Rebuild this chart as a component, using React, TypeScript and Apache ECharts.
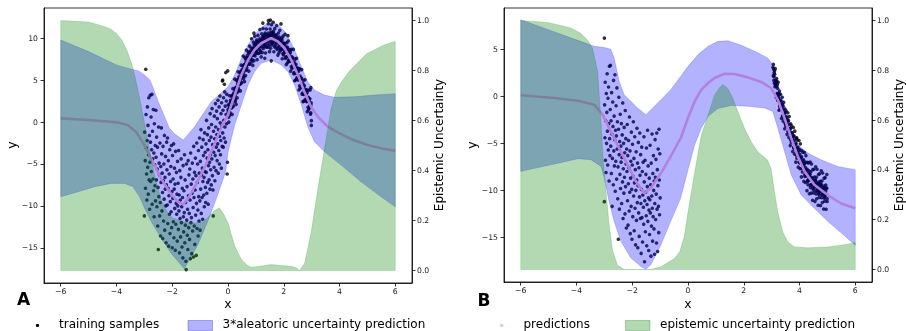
import React, { useEffect, useRef } from "react";
import * as echarts from "echarts";

// ---------- ticks ----------
const xTicks = [-6, -4, -2, 0, 2, 4, 6];
const yTicksA = [-15, -10, -5, 0, 5, 10];
const yTicksB = [-15, -10, -5, 0, 5];
const eTicks = [0, 0.2, 0.4, 0.6, 0.8, 1.0];

// ---------- panel A ----------
const trainA: number[][] = [
  [-2.99,-1.2],[-2.97,-4.6],[-2.96,-7.9],[-2.95,6.3],[-2.94,0.9],[-2.93,-3.1],[-2.92,-6.2],[-2.91,-9.3],[-2.9,-2.2],[-2.89,1.8],[-2.88,-5.4],[-2.87,-0.4],[-2.86,-8.6],[-2.85,-3.9],[-2.84,2.9],[-2.83,-6.9],[-2.82,-1.6],[-2.81,-10.4],[-2.8,-4.8],[-3.0,-11.2],
  [-2.79,3.2],[-2.78,-2.4],[-2.77,-7.1],[-2.76,0.6],[-2.75,-5.9],[-2.74,-3.3],[-2.73,3.3],[-2.72,-9.8],[-2.71,-1.1],[-2.7,-4.4],[-2.69,-6.8],[-2.68,1.5],[-2.67,-8.2],[-2.66,-3.7],[-2.65,-11.3],[-2.64,-0.2],[-2.63,-5.1],[-2.62,-7.6],[-2.61,-2.8],[-2.6,-9.4],
  [-2.59,1.4],[-2.58,-4.2],[-2.57,-6.9],[-2.56,-1.8],[-2.55,-10.1],[-2.54,-5.6],[-2.53,-3.0],[-2.52,-12.4],[-2.51,-7.8],[-2.5,-15.2],[-2.49,-0.6],[-2.48,-8.9],[-2.47,-4.9],[-2.46,-6.3],[-2.45,-11.2],[-2.44,-2.5],[-2.43,-9.6],[-2.42,-13.6],[-2.41,-5.3],[-2.4,-7.2],
  [-2.39,-0.7],[-2.38,-3.8],[-2.37,-10.6],[-2.36,-6.1],[-2.35,-8.4],[-2.34,-13.9],[-2.33,-2.9],[-2.32,-7.0],[-2.31,-11.8],[-2.3,-5.0],[-2.29,-9.2],[-2.28,-1.6],[-2.27,-12.9],[-2.26,-6.6],[-2.25,-8.0],[-2.24,-4.1],[-2.23,-10.0],[-2.22,-14.4],[-2.21,-7.5],[-2.2,-2.4],
  [-2.19,-5.7],[-2.18,-9.9],[-2.17,-1.9],[-2.16,-12.1],[-2.15,-7.9],[-2.14,-4.6],[-2.13,-14.8],[-2.12,-8.8],[-2.11,-6.2],[-2.1,-11.0],[-2.09,-3.3],[-2.08,-13.3],[-2.07,-9.5],[-2.06,-7.1],[-2.05,-5.3],[-2.04,-10.7],[-2.03,-2.8],[-2.02,-12.6],[-2.01,-8.3],[-2.0,-15.0],
  [-1.99,-4.0],[-1.98,-9.1],[-1.97,-6.8],[-1.96,-11.9],[-1.95,-2.6],[-1.94,-13.8],[-1.93,-8.0],[-1.92,-5.5],[-1.91,-10.3],[-1.9,-7.4],[-1.89,-15.3],[-1.88,-3.5],[-1.87,-12.2],[-1.86,-9.7],[-1.85,-6.0],[-1.84,-11.0],[-1.83,-8.6],[-1.82,-14.2],[-1.81,-4.7],[-1.8,-10.0],
  [-1.79,-7.3],[-1.78,-12.8],[-1.77,-3.4],[-1.76,-10.6],[-1.75,-8.7],[-1.74,-15.6],[-1.73,-5.8],[-1.72,-11.5],[-1.71,-9.3],[-1.7,-13.7],[-1.69,-6.6],[-1.68,-4.4],[-1.67,-12.0],[-1.66,-10.1],[-1.65,-14.9],[-1.64,-7.9],[-1.63,-9.0],[-1.62,-16.2],[-1.61,-5.2],[-1.6,-11.3],
  [-1.59,-13.1],[-1.58,-8.2],[-1.57,-10.8],[-1.56,-3.9],[-1.55,-14.4],[-1.54,-6.9],[-1.53,-12.3],[-1.52,-9.6],[-1.51,-16.6],[-1.5,-17.6],[-1.49,-5.0],[-1.48,-11.7],[-1.47,-7.7],[-1.46,-13.5],[-1.45,-10.4],[-1.44,-15.2],[-1.43,-4.6],[-1.42,-8.8],[-1.41,-12.6],[-1.4,-6.3],
  [-1.39,-10.9],[-1.38,-14.0],[-1.37,-5.6],[-1.36,-9.3],[-1.35,-16.3],[-1.34,-3.7],[-1.33,-12.0],[-1.32,-7.4],[-1.31,-11.4],[-1.3,-15.7],[-1.29,-8.5],[-1.28,-4.9],[-1.27,-13.0],[-1.26,-6.8],[-1.25,-10.2],[-1.24,-16.1],[-1.23,-2.9],[-1.22,-9.0],[-1.21,-12.4],[-1.2,-6.0],
  [-1.19,-14.6],[-1.18,-8.1],[-1.17,-4.3],[-1.16,-11.1],[-1.15,-6.4],[-1.14,-15.9],[-1.13,-9.7],[-1.12,-2.5],[-1.11,-12.7],[-1.1,-7.2],[-1.09,-5.0],[-1.08,-10.5],[-1.07,-13.6],[-1.06,-3.4],[-1.05,-8.9],[-1.04,-11.8],[-1.03,-6.1],[-1.02,-1.9],[-1.01,-9.4],[-1.0,-12.9],
  [-0.99,-4.7],[-0.98,-8.0],[-0.97,-0.9],[-0.96,-10.9],[-0.95,-6.3],[-0.94,-3.0],[-0.93,-9.0],[-0.92,-5.5],[-0.91,-11.6],[-0.9,-7.1],[-0.89,-2.1],[-0.88,-4.0],[-0.87,-8.7],[-0.86,-6.6],[-0.85,-10.1],[-0.84,-1.3],[-0.83,-5.9],[-0.82,-3.6],[-0.81,-7.8],[-0.8,-9.6],
  [-0.79,-2.6],[-0.78,-6.0],[-0.77,0.2],[-0.76,-8.5],[-0.75,-4.3],[-0.74,-1.5],[-0.73,-7.2],[-0.72,-3.3],[-0.71,-9.8],[-0.7,-5.2],[-0.69,-0.7],[-0.68,-6.9],[-0.67,-2.2],[-0.66,-4.8],[-0.65,-8.0],[-0.64,1.0],[-0.63,-3.9],[-0.62,-5.7],[-0.61,-1.8],[-0.6,-7.5],
  [-0.59,-0.3],[-0.58,-4.4],[-0.57,1.6],[-0.56,-6.4],[-0.55,-2.7],[-0.54,-8.1],[-0.53,-11.2],[-0.52,-1.1],[-0.51,-3.6],[-0.5,-5.4],[-0.49,0.7],[-0.48,-2.0],[-0.47,-7.0],[-0.46,-4.0],[-0.45,2.2],[-0.44,-0.6],[-0.43,-5.8],[-0.42,-3.0],[-0.41,1.3],[-0.4,-1.5],
  [-0.39,-4.6],[-0.38,0.4],[-0.37,-2.6],[-0.36,2.6],[-0.35,-6.1],[-0.34,-0.9],[-0.33,-3.4],[-0.32,1.8],[-0.31,-5.0],[-0.3,-1.7],[-0.29,3.1],[-0.28,-0.1],[-0.27,-3.9],[-0.26,-2.2],[-0.25,1.0],[-0.24,-5.5],[-0.23,2.3],[-0.22,-0.5],[-0.21,-2.9],[-0.2,4.9],
  [-0.19,-1.3],[-0.18,1.4],[-0.17,-3.0],[-0.16,2.9],[-0.15,0.2],[-0.14,-1.9],[-0.13,4.5],[-0.12,3.6],[-0.11,-0.6],[-0.1,1.9],[-0.09,-2.4],[-0.08,5.9],[-0.07,0.9],[-0.06,2.5],[-0.05,-0.2],[-0.04,3.3],[-0.03,-6.2],[-0.02,-4.8],[-0.01,6.1],[0.0,1.5],[-0.19,5.0],
  [0.01,2.06],[0.03,-0.01],[0.045,1.66],[0.06,3.14],[0.075,1.11],[0.09,2.58],[0.005,1.2],[0.02,0.57],[0.037,1.97],[0.052,1.24],[0.068,0.83],[0.083,2.3],
  [0.11,1.69],[0.13,3.17],[0.145,0.91],[0.16,2.64],[0.175,3.98],[0.19,1.91],[0.105,2.35],[0.12,1.68],[0.137,3.03],[0.152,2.27],[0.168,1.81],[0.183,3.25],
  [0.21,3.49],[0.23,2.97],[0.245,5.11],[0.26,2.44],[0.275,3.78],[0.29,2.11],[0.205,3.25],[0.22,2.58],[0.237,3.93],[0.252,3.17],[0.268,2.71],[0.283,4.15],
  [0.31,5.0],[0.33,2.9],[0.345,4.55],[0.36,6.0],[0.375,3.95],[0.39,5.4],[0.305,4.15],[0.32,3.5],[0.337,4.87],[0.352,4.12],[0.368,3.68],[0.383,5.13],
  [0.41,4.49],[0.43,5.97],[0.445,3.71],[0.46,5.44],[0.475,6.78],[0.49,4.71],[0.405,5.15],[0.42,4.48],[0.437,5.83],[0.452,5.07],[0.468,4.61],[0.483,6.05],
  [0.51,6.28],[0.53,5.74],[0.545,7.86],[0.56,5.18],[0.575,6.5],[0.59,4.82],[0.505,6.04],[0.52,5.36],[0.537,6.7],[0.552,5.92],[0.568,5.44],[0.583,6.86],
  [0.61,7.68],[0.63,5.54],[0.645,7.16],[0.66,8.58],[0.675,6.5],[0.69,7.92],[0.605,6.84],[0.62,6.16],[0.637,7.5],[0.652,6.72],[0.668,6.24],[0.683,7.66],
  [0.71,6.96],[0.73,8.38],[0.745,6.07],[0.76,7.76],[0.775,9.05],[0.79,6.94],[0.705,7.63],[0.72,6.92],[0.737,8.22],[0.752,7.41],[0.768,6.91],[0.783,8.3],
  [0.81,8.45],[0.83,7.85],[0.845,9.93],[0.86,7.2],[0.875,8.48],[0.89,6.75],[0.805,8.23],[0.82,7.5],[0.837,8.79],[0.852,7.96],[0.868,7.44],[0.883,8.82],
  [0.91,9.54],[0.93,7.32],[0.945,8.88],[0.96,10.24],[0.975,8.1],[0.99,9.46],[0.905,8.72],[0.92,7.98],[0.937,9.25],[0.952,8.41],[0.968,7.87],[0.983,9.23],
  [1.01,8.43],[1.03,9.79],[1.045,7.44],[1.06,9.08],[1.075,10.33],[1.09,8.17],[1.005,9.12],[1.02,8.36],[1.037,9.61],[1.052,8.76],[1.068,8.2],[1.083,9.55],
  [1.11,9.63],[1.13,8.99],[1.145,11.04],[1.16,8.28],[1.175,9.53],[1.19,7.77],[1.105,9.42],[1.12,8.66],[1.137,9.91],[1.152,9.06],[1.168,8.5],[1.183,9.85],
  [1.21,10.53],[1.23,8.28],[1.245,9.81],[1.26,11.15],[1.275,8.99],[1.29,10.33],[1.205,9.71],[1.22,8.95],[1.237,10.19],[1.252,9.33],[1.268,8.77],[1.283,10.11],
  [1.31,9.27],[1.33,10.61],[1.345,8.24],[1.36,9.87],[1.375,11.1],[1.39,8.93],[1.305,9.96],[1.32,9.19],[1.337,10.42],[1.352,9.55],[1.368,8.99],[1.383,10.32],
  [1.41,10.37],[1.43,9.7],[1.445,11.72],[1.46,8.94],[1.475,10.16],[1.49,8.39],[1.405,10.16],[1.42,9.38],[1.437,10.61],[1.452,9.73],[1.468,9.15],[1.483,10.47],
  [1.51,11.1],[1.53,8.8],[1.545,10.3],[1.56,11.6],[1.575,9.4],[1.59,10.7],[1.505,10.3],[1.52,9.5],[1.537,10.7],[1.552,9.8],[1.568,9.2],[1.583,10.5],
  [1.61,9.54],[1.63,10.81],[1.645,8.38],[1.66,9.96],[1.675,11.14],[1.69,8.91],[1.605,10.24],[1.62,9.42],[1.637,10.59],[1.652,9.67],[1.668,9.05],[1.683,10.33],
  [1.71,10.28],[1.73,9.53],[1.745,11.49],[1.76,8.65],[1.775,9.81],[1.79,7.98],[1.705,10.09],[1.72,9.25],[1.737,10.41],[1.752,9.47],[1.768,8.83],[1.783,10.09],
  [1.81,10.62],[1.83,8.25],[1.845,9.69],[1.86,10.94],[1.875,8.69],[1.89,9.94],[1.805,9.83],[1.82,8.98],[1.837,10.12],[1.852,9.17],[1.868,8.51],[1.883,9.76],
  [1.91,8.77],[1.93,10.0],[1.945,7.54],[1.96,9.09],[1.975,10.24],[1.99,7.99],[1.905,9.48],[1.92,8.63],[1.937,9.77],[1.952,8.82],[1.968,8.16],[1.983,9.41],
  [2.01,9.31],[2.03,8.52],[2.045,10.45],[2.06,7.58],[2.075,8.71],[2.09,6.85],[2.005,9.13],[2.02,8.26],[2.037,9.38],[2.052,8.42],[2.068,7.74],[2.083,8.98],
  [2.11,9.45],[2.13,7.04],[2.145,8.45],[2.16,9.67],[2.175,7.39],[2.19,8.6],[2.105,8.67],[2.12,7.79],[2.137,8.9],[2.152,7.91],[2.168,7.23],[2.183,8.44],
  [2.21,7.39],[2.23,8.56],[2.245,6.06],[2.26,7.56],[2.275,8.66],[2.29,6.37],[2.205,8.12],[2.22,7.22],[2.237,8.31],[2.252,7.31],[2.268,6.61],[2.283,7.81],
  [2.31,7.63],[2.33,6.78],[2.345,8.66],[2.36,5.75],[2.375,6.84],[2.39,4.93],[2.305,7.46],[2.32,6.55],[2.337,7.62],[2.352,6.61],[2.368,5.89],[2.383,7.08],
  [2.41,7.48],[2.43,5.03],[2.445,6.41],[2.46,7.6],[2.475,5.29],[2.49,6.48],[2.405,6.71],[2.42,5.8],[2.437,6.87],[2.452,5.86],[2.468,5.14],[2.483,6.33],
  [2.51,5.22],[2.53,6.35],[2.545,3.82],[2.56,5.29],[2.575,6.36],[2.59,4.04],[2.505,5.96],[2.52,5.03],[2.537,6.09],[2.552,5.06],[2.568,4.32],[2.583,5.49],
  [2.61,5.26],[2.63,4.38],[2.645,6.25],[2.66,3.31],[2.675,4.38],[2.69,2.44],[2.605,5.11],[2.62,4.17],[2.637,5.22],[2.652,4.18],[2.668,3.44],[2.683,4.6],
  [2.71,4.97],[2.73,2.5],[2.745,3.87],[2.76,5.04],[2.775,2.71],[2.79,3.89],[2.705,4.21],[2.72,3.28],[2.737,4.34],[2.752,3.31],[2.768,2.57],[2.783,3.74],
  [2.81,2.62],[2.83,3.76],[2.845,1.24],[2.86,2.72],[2.875,3.8],[2.89,1.48],[2.805,3.36],[2.82,2.44],[2.837,3.5],[2.852,2.48],[2.868,1.76],[2.883,2.94],
  [2.91,2.74],[2.93,1.92],[2.945,3.83],[2.96,0.94],[2.975,2.05],[2.99,0.16],[2.905,2.57],[2.92,1.68],[2.937,2.78],[2.952,1.79],[2.968,1.09],[2.983,2.3],
  [2.99,-0.4],[2.97,4.1],[1.45,12.1],[1.52,12.15],[1.62,11.9],[1.25,11.8],[1.9,11.7],[1.55,7.3],[1.32,7.6],[0.93,10.6],[2.15,10.3]
];
const predA: number[][] = [
  [-6,0.44],[-5,0.24],[-4,-0.04],[-3.6,-0.36],[-3.3,-1.15],[-3.0,-2.75],[-2.7,-4.74],[-2.4,-6.72],[-2.1,-8.32],[-1.8,-9.52],[-1.6,-9.83],[-1.4,-8.92],[-1.1,-7.13],[-0.8,-5.14],[-0.5,-2.75],[-0.2,-0.36],[0,0.84],[0.24,3.22],[0.48,5.61],[0.72,7.4],[0.95,8.6],[1.19,9.4],[1.55,10.0],[1.79,9.6],[2.03,8.8],[2.27,7.4],[2.51,5.61],[2.74,3.62],[2.98,1.83],[3.22,0.63],[3.58,-0.56],[4.0,-1.35],[4.5,-2.15],[5.0,-2.75],[5.5,-3.14],[6.0,-3.43]
];
const aleaUpperA: number[][] = [
  [-6,9.79],[-5,8.4],[-4,6.81],[-3.5,6.33],[-3.2,6.09],[-3.0,5.61],[-2.8,5.02],[-2.7,4.22],[-2.5,2.43],[-2.3,0.84],[-2.1,-0.75],[-1.9,-1.47],[-1.6,-2.15],[-1.4,-1.35],[-1.2,-0.56],[-1.0,0.44],[-0.8,1.43],[-0.6,2.43],[-0.4,3.02],[-0.2,3.62],[0,4.2],[0.24,5.61],[0.48,7.6],[0.72,9.2],[0.95,10.39],[1.19,11.27],[1.49,11.9],[1.79,11.67],[2.09,10.59],[2.39,8.6],[2.63,6.6],[2.86,4.8],[3.1,3.82],[3.46,3.22],[3.82,2.95],[4.53,3.02],[5.25,3.22],[6,3.38]
];
const aleaLowerA: number[][] = [
  [-6,-8.92],[-5.38,-8.32],[-4.78,-7.72],[-4.19,-7.32],[-3.71,-7.32],[-3.41,-7.72],[-3.17,-8.92],[-2.99,-10.3],[-2.75,-11.9],[-2.39,-13.9],[-2.03,-15.7],[-1.57,-17.5],[-1.09,-14.7],[-0.73,-11.9],[-0.37,-8.7],[-0.08,-5.9],[0,-3.6],[0.24,-0.36],[0.48,2.03],[0.72,4.42],[0.95,6.0],[1.19,7.0],[1.55,7.4],[1.91,6.8],[2.15,6.0],[2.39,4.42],[2.63,2.03],[2.86,-0.56],[3.1,-2.35],[3.46,-3.55],[4.06,-5.14],[4.77,-7.13],[5.49,-8.92],[6,-10.12]
];
const epiA: number[][] = [
  [-6,1.0],[-5,0.994],[-4.5,0.978],[-4.2,0.965],[-4,0.948],[-3.8,0.921],[-3.6,0.874],[-3.4,0.807],[-3.2,0.707],[-3.0,0.593],[-2.8,0.472],[-2.6,0.365],[-2.4,0.285],[-2.2,0.238],[-2.0,0.211],[-1.6,0.195],[-1.2,0.19],[-0.9,0.195],[-0.7,0.215],[-0.5,0.238],[-0.32,0.251],[-0.15,0.225],[0,0.19],[0.24,0.098],[0.48,0.044],[0.7,0.02],[0.84,0.013],[1.2,0.018],[1.55,0.024],[1.9,0.02],[2.27,0.017],[2.45,0.01],[2.57,0.0],[2.75,0.03],[2.98,0.151],[3.22,0.325],[3.46,0.486],[3.7,0.65],[3.89,0.72],[4.06,0.753],[4.37,0.8],[4.97,0.867],[5.56,0.9],[6.0,0.917]
];

// ---------- panel B ----------
const trainB: number[][] = [
  [-2.99,-0.9],[-2.98,-4.4],[-2.97,1.5],[-2.96,-6.8],[-2.95,-2.6],[-2.94,-8.1],[-2.93,0.3],[-2.92,-5.0],[-2.91,-1.7],[-2.9,2.4],[-2.89,-3.7],[-2.88,-7.3],[-2.87,-0.2],[-2.86,-5.7],[-2.85,1.0],[-2.84,-2.9],[-2.83,-9.0],[-2.82,3.2],[-2.81,-4.5],[-2.8,-6.3],[-3.0,6.2],[-3.0,-11.2],
  [-2.79,-1.4],[-2.78,3.3],[-2.77,-5.3],[-2.76,-2.6],[-2.75,-8.2],[-2.74,0.4],[-2.73,-4.0],[-2.72,-11.7],[-2.71,-6.6],[-2.7,-0.6],[-2.69,-3.2],[-2.68,-9.4],[-2.67,1.7],[-2.66,-5.8],[-2.65,-2.1],[-2.64,-7.4],[-2.63,-4.6],[-2.62,2.3],[-2.61,-10.1],[-2.6,-3.6],
  [-2.59,-6.9],[-2.58,-1.0],[-2.57,-4.2],[-2.56,-8.8],[-2.55,0.9],[-2.54,-5.6],[-2.53,-2.7],[-2.52,-10.9],[-2.51,-7.5],[-2.5,-15.2],[-2.49,-3.5],[-2.48,-0.1],[-2.47,-6.2],[-2.46,-12.0],[-2.45,-4.8],[-2.44,-8.3],[-2.43,-1.9],[-2.42,-9.8],[-2.41,-5.3],[-2.4,-7.0],
  [-2.39,-2.9],[-2.38,-11.4],[-2.37,-6.5],[-2.36,-4.1],[-2.35,-9.1],[-2.34,-0.7],[-2.33,-13.0],[-2.32,-7.7],[-2.31,-5.0],[-2.3,-10.3],[-2.29,-3.3],[-2.28,-8.6],[-2.27,-6.0],[-2.26,-12.5],[-2.25,-1.5],[-2.24,-9.6],[-2.23,-4.5],[-2.22,-7.2],[-2.21,-14.0],[-2.2,-5.6],
  [-2.19,-8.0],[-2.18,-3.0],[-2.17,-11.1],[-2.16,-6.3],[-2.15,-13.7],[-2.14,-9.3],[-2.13,-4.7],[-2.12,-7.6],[-2.11,-12.2],[-2.1,-2.2],[-2.09,-10.2],[-2.08,-5.8],[-2.07,-14.6],[-2.06,-8.7],[-2.05,-6.9],[-2.04,-11.7],[-2.03,-3.8],[-2.02,-9.9],[-2.01,-15.2],[-2.0,-7.3],
  [-1.99,-5.1],[-1.98,-12.8],[-1.97,-8.5],[-1.96,-2.7],[-1.95,-10.6],[-1.94,-6.6],[-1.93,-14.3],[-1.92,-9.2],[-1.91,-4.3],[-1.9,-11.9],[-1.89,-7.8],[-1.88,-15.8],[-1.87,-10.0],[-1.86,-5.9],[-1.85,-13.2],[-1.84,-8.9],[-1.83,-3.4],[-1.82,-11.3],[-1.81,-7.1],[-1.8,-16.1],
  [-1.79,-9.5],[-1.78,-4.9],[-1.77,-12.4],[-1.76,-7.6],[-1.75,-14.9],[-1.74,-10.7],[-1.73,-3.9],[-1.72,-8.4],[-1.71,-13.0],[-1.7,-6.2],[-1.69,-11.4],[-1.68,-16.7],[-1.67,-9.9],[-1.66,-5.4],[-1.65,-12.9],[-1.64,-8.0],[-1.63,-15.5],[-1.62,-10.5],[-1.61,-7.0],[-1.6,-11.8],
  [-1.59,-13.6],[-1.58,-4.3],[-1.57,-9.1],[-1.56,-17.6],[-1.55,-11.1],[-1.54,-6.8],[-1.53,-14.4],[-1.52,-10.2],[-1.51,-8.3],[-1.5,-12.7],[-1.49,-5.5],[-1.48,-15.9],[-1.47,-11.5],[-1.46,-9.6],[-1.45,-3.6],[-1.44,-13.3],[-1.43,-7.4],[-1.42,-10.8],[-1.41,-16.4],[-1.4,-12.1],
  [-1.39,-8.7],[-1.38,-14.7],[-1.37,-11.0],[-1.36,-5.2],[-1.35,-12.4],[-1.34,-9.4],[-1.33,-17.0],[-1.32,-7.1],[-1.31,-13.8],[-1.3,-10.6],[-1.29,-4.0],[-1.28,-11.9],[-1.27,-15.4],[-1.26,-8.2],[-1.25,-12.8],[-1.24,-6.3],[-1.23,-10.0],[-1.22,-14.1],[-1.21,-9.0],[-1.2,-16.8],
  [-1.19,-11.4],[-1.18,-4.6],[-1.17,-8.6],[-1.16,-13.1],[-1.15,-6.7],[-1.14,-10.4],[-1.13,-15.6],[-1.12,-3.9],[-1.11,-12.0],[-1.1,-7.8],[-1.09,-16.5],[-1.08,-9.5],[-1.07,-5.6],[-1.06,-11.7],[-1.05,-14.5],[-1.04,-3.5],[-1.03,-8.9],[-1.02,-12.6],[-1.01,-6.1],[-1.0,-10.8],
  [3.05,3.1],[3.06,2.2],[3.07,2.9],[3.08,1.7],[3.09,2.5],[3.1,1.4],[3.06,3.4],[3.08,2.1],[3.9,-4.4],
  [3.105,2.73],[3.118,1.03],[3.13,2.95],[3.142,1.27],[3.155,1.58],[3.168,-0.12],[3.18,1.9],[3.193,0.3],[3.11,2.35],[3.125,1.43],[3.14,1.7],[3.16,1.1],[3.175,1.58],[3.19,0.25],
  [3.205,1.24],[3.218,-0.43],[3.23,1.51],[3.242,-0.15],[3.255,0.18],[3.268,-1.48],[3.28,0.56],[3.293,-1.01],[3.21,0.87],[3.225,-0.02],[3.24,0.28],[3.26,-0.28],[3.275,0.22],[3.29,-1.07],
  [3.305,-1.35],[3.318,0.22],[3.33,-1.1],[3.342,-0.52],[3.355,-2.35],[3.368,-0.98],[3.38,-0.1],[3.393,-2.13],[3.31,-0.4],[3.325,-1.25],[3.34,-0.9],[3.36,-1.4],[3.375,-0.85],[3.39,-2.1],
  [3.405,-1.04],[3.418,-2.64],[3.43,-0.64],[3.442,-2.24],[3.455,-1.84],[3.468,-3.44],[3.48,-1.34],[3.493,-2.84],[3.41,-1.38],[3.425,-2.2],[3.44,-1.82],[3.46,-2.28],[3.475,-1.7],[3.49,-2.92],
  [3.505,-3.14],[3.518,-1.54],[3.53,-2.84],[3.542,-2.24],[3.555,-4.04],[3.568,-2.64],[3.58,-1.74],[3.593,-3.74],[3.51,-2.18],[3.525,-3.0],[3.54,-2.62],[3.56,-3.08],[3.575,-2.5],[3.59,-3.72],
  [3.605,-2.59],[3.618,-4.36],[3.63,-2.15],[3.642,-3.91],[3.655,-3.48],[3.668,-5.24],[3.68,-2.92],[3.693,-4.59],[3.61,-2.99],[3.625,-3.83],[3.64,-3.46],[3.66,-3.94],[3.675,-3.38],[3.69,-4.61],
  [3.705,-4.91],[3.718,-3.14],[3.73,-4.56],[3.742,-3.89],[3.755,-5.86],[3.768,-4.31],[3.78,-3.31],[3.793,-5.5],[3.71,-3.88],[3.725,-4.7],[3.74,-4.32],[3.76,-4.78],[3.775,-4.2],[3.79,-5.42],
  [3.805,-4.22],[3.818,-6.12],[3.83,-3.7],[3.842,-5.6],[3.855,-5.1],[3.868,-7.0],[3.88,-4.46],[3.893,-6.24],[3.81,-4.68],[3.825,-5.5],[3.84,-5.12],[3.86,-5.58],[3.875,-5.0],[3.89,-6.22],
  [3.905,-6.58],[3.918,-4.63],[3.93,-6.15],[3.942,-5.4],[3.955,-7.53],[3.968,-5.82],[3.98,-4.7],[3.993,-7.07],[3.91,-5.47],[3.925,-6.28],[3.94,-5.88],[3.96,-6.32],[3.975,-5.73],[3.99,-6.93],
  [4.005,-5.66],[4.018,-7.7],[4.03,-5.05],[4.042,-7.09],[4.055,-6.53],[4.068,-8.57],[4.08,-5.79],[4.093,-7.7],[4.01,-6.17],[4.025,-6.98],[4.04,-6.58],[4.06,-7.02],[4.075,-6.43],[4.09,-7.63],
  [4.105,-8.05],[4.118,-5.93],[4.13,-7.57],[4.142,-6.75],[4.155,-9.05],[4.168,-7.19],[4.18,-5.97],[4.193,-8.53],[4.11,-6.87],[4.125,-7.68],[4.14,-7.28],[4.16,-7.72],[4.175,-7.13],[4.19,-8.33],
  [4.205,-6.99],[4.218,-9.17],[4.23,-6.3],[4.242,-8.47],[4.255,-7.85],[4.268,-10.03],[4.28,-7.02],[4.293,-9.06],[4.21,-7.56],[4.225,-8.35],[4.24,-7.94],[4.26,-8.36],[4.275,-7.75],[4.29,-8.94],
  [4.305,-9.41],[4.318,-7.09],[4.33,-8.83],[4.342,-7.91],[4.355,-10.36],[4.368,-8.32],[4.38,-6.98],[4.393,-9.71],[4.31,-8.15],[4.325,-8.93],[4.34,-8.5],[4.36,-8.9],[4.375,-8.28],[4.39,-9.45],
  [4.405,-8.02],[4.418,-10.3],[4.43,-7.19],[4.442,-9.48],[4.455,-8.77],[4.468,-11.05],[4.48,-7.79],[4.493,-9.93],[4.41,-8.63],[4.425,-9.38],[4.44,-8.92],[4.46,-9.28],[4.475,-8.63],[4.49,-9.77],
  [4.505,-10.27],[4.518,-7.75],[4.53,-9.59],[4.542,-8.58],[4.555,-11.17],[4.568,-8.95],[4.58,-7.49],[4.593,-10.38],[4.51,-8.93],[4.525,-9.68],[4.54,-9.22],[4.56,-9.58],[4.575,-8.93],[4.59,-10.07],
  [4.605,-8.61],[4.618,-10.89],[4.63,-7.76],[4.642,-10.03],[4.655,-9.31],[4.668,-11.59],[4.68,-8.31],[4.693,-10.44],[4.61,-9.22],[4.625,-9.95],[4.64,-9.48],[4.66,-9.82],[4.675,-9.15],[4.69,-10.28],
  [4.705,-10.76],[4.718,-8.24],[4.73,-10.06],[4.742,-9.03],[4.755,-11.61],[4.768,-9.39],[4.78,-7.91],[4.793,-10.79],[4.71,-9.42],[4.725,-10.15],[4.74,-9.68],[4.76,-10.02],[4.775,-9.35],[4.79,-10.48],
  [4.805,-9.01],[4.818,-11.29],[4.83,-8.16],[4.842,-10.43],[4.855,-9.71],[4.868,-11.99],[4.88,-8.71],[4.893,-10.84],[4.81,-9.62],[4.825,-10.35],[4.84,-9.88],[4.86,-10.22],[4.875,-9.55],[4.89,-10.68],
  [4.905,-11.16],[4.918,-8.64],[4.93,-10.46],[4.942,-9.43],[4.955,-12.01],[4.968,-9.79],[4.98,-8.31],[4.993,-11.19],[4.91,-9.82],[4.925,-10.55],[4.94,-10.08],[4.96,-10.42],[4.975,-9.75],[4.99,-10.88]
];
const predB: number[][] = [
  [-6,0.11],[-4.79,-0.18],[-3.95,-0.46],[-3.36,-0.89],[-3.06,-1.95],[-2.77,-3.72],[-2.47,-5.5],[-2.17,-7.27],[-1.87,-9.04],[-1.57,-10.3],[-1.33,-9.75],[-0.97,-8.16],[-0.62,-6.39],[-0.26,-4.43],[0,-2.3],[0.24,-0.53],[0.48,0.71],[0.72,1.42],[0.95,1.95],[1.31,2.41],[1.67,2.38],[2.15,2.02],[2.63,1.53],[2.98,0.89],[3.22,-0.35],[3.46,-2.3],[3.7,-4.43],[3.94,-6.39],[4.18,-7.98],[4.53,-9.4],[5.01,-10.5],[5.49,-11.4],[6,-11.9]
];
const aleaUpperB: number[][] = [
  [-6,8.16],[-3.36,5.32],[-3.0,5.2],[-2.77,5.0],[-2.65,4.1],[-2.47,1.6],[-2.29,0.18],[-2.05,-0.53],[-1.81,-1.24],[-1.51,-1.95],[-1.27,-1.24],[-0.97,-0.35],[-0.62,0.71],[-0.26,2.13],[0,3.19],[0.36,4.44],[0.72,5.32],[1.07,5.85],[1.43,5.92],[1.91,5.43],[2.39,4.79],[2.86,4.08],[3.04,3.37],[3.22,1.25],[3.46,-0.89],[3.7,-3.37],[3.94,-5.14],[4.3,-6.03],[4.77,-6.74],[5.37,-7.45],[6,-7.8]
];
const aleaLowerB: number[][] = [
  [-6,-7.98],[-4.79,-7.2],[-3.95,-6.63],[-3.48,-6.74],[-3.12,-7.45],[-3.0,-8.69],[-2.83,-11.2],[-2.65,-13.3],[-2.41,-15.4],[-2.05,-17.2],[-1.69,-18.1],[-1.51,-18.4],[-1.33,-17.9],[-0.97,-15.8],[-0.62,-13.3],[-0.26,-10.8],[0,-7.8],[0.24,-5.14],[0.48,-3.37],[0.72,-2.12],[1.07,-1.3],[1.55,-0.98],[2.15,-1.06],[2.74,-1.24],[3.04,-1.6],[3.22,-3.37],[3.46,-5.85],[3.7,-8.33],[4.06,-10.5],[4.53,-11.9],[5.01,-13.3],[5.49,-14.5],[6,-15.85]
];
const epiB: number[][] = [
  [-6,1.0],[-5.03,0.992],[-4.2,0.97],[-3.84,0.948],[-3.6,0.921],[-3.42,0.887],[-3.24,0.794],[-3.12,0.593],[-3.03,0.419],[-2.94,0.312],[-2.83,0.178],[-2.71,0.078],[-2.53,0.017],[-2.29,0.0],[-1.33,0.0],[-0.97,0.011],[-0.49,0.044],[-0.3,0.07],[-0.14,0.13],[0,0.23],[0.24,0.392],[0.48,0.54],[0.72,0.62],[0.95,0.7],[1.13,0.73],[1.25,0.743],[1.43,0.727],[1.61,0.687],[1.79,0.633],[2.03,0.566],[2.27,0.512],[2.51,0.472],[2.86,0.439],[2.98,0.405],[3.1,0.312],[3.22,0.232],[3.4,0.151],[3.58,0.111],[3.82,0.091],[4.3,0.087],[5.01,0.091],[5.61,0.1],[6.0,0.108]
];

const FONT = "DejaVu Sans";
const BLUE_FILL = "rgba(0,0,255,0.3)";
const GREEN_FILL = "rgba(0,128,0,0.3)";
const PINK = "rgb(255,185,210)";

export default function App() {
  const ref = useRef<HTMLDivElement>(null);

  useEffect(() => {
    const chart = echarts.init(ref.current as HTMLDivElement, null, { renderer: "svg" });
    const minus = (v: number) => String(v).replace("-", "\u2212");

    const bandRender = (upper: number[][], lower: number[][], fill: string) =>
      (_p: any, api: any) => {
        const pts = upper.concat(lower.slice().reverse()).map((p) => api.coord(p));
        return { type: "polygon", shape: { points: pts }, style: { fill, stroke: fill, lineWidth: 0.6 } };
      };
    const epiRender = (e: number[][]) => (_p: any, api: any) => {
      const poly = [[e[0][0], 0], ...e, [e[e.length - 1][0], 0]];
      return { type: "polygon", shape: { points: poly.map((p) => api.coord(p)) }, style: { fill: GREEN_FILL, stroke: GREEN_FILL, lineWidth: 0.6 } };
    };

    const tickStyle = { show: true, length: 3.5, lineStyle: { color: "#000", width: 0.8 } };
    const lblStyle = { fontSize: 7.7, color: "#222", fontFamily: FONT };

    const xAxis = (gridIndex: number) => ({
      type: "value", gridIndex, min: -6.6, max: 6.6,
      axisLine: { show: true, onZero: false, lineStyle: { color: "#000", width: 0.8 } },
      splitLine: { show: false },
      axisTick: { ...tickStyle, customValues: xTicks },
      axisLabel: { ...lblStyle, margin: 4, customValues: xTicks, formatter: minus },
    });
    const yAxisLeft = (gridIndex: number, min: number, max: number, ticks: number[]) => ({
      type: "value", gridIndex, min, max, position: "left",
      axisLine: { show: true, onZero: false, lineStyle: { color: "#000", width: 0.8 } },
      splitLine: { show: false },
      axisTick: { ...tickStyle, customValues: ticks },
      axisLabel: { ...lblStyle, margin: 6, customValues: ticks, formatter: minus },
    });
    const yAxisRight = (gridIndex: number) => ({
      type: "value", gridIndex, min: -0.05, max: 1.05, position: "right",
      axisLine: { show: true, onZero: false, lineStyle: { color: "#000", width: 0.8 } },
      splitLine: { show: false },
      axisTick: { ...tickStyle, customValues: eTicks },
      axisLabel: { ...lblStyle, margin: 5, customValues: eTicks, formatter: (v: number) => v.toFixed(1) },
    });

    const panelSeries = (xi: number, yl: number, yr: number, train: number[][], pred: number[][], up: number[][], lo: number[][], epi: number[][]) => [
      { type: "scatter", xAxisIndex: xi, yAxisIndex: yl, data: train, symbolSize: 3.6, itemStyle: { color: "#000" }, z: 2, silent: true },
      { type: "line", xAxisIndex: xi, yAxisIndex: yl, data: pred, showSymbol: false, lineStyle: { color: PINK, width: 2.6 }, z: 3, silent: true },
      { type: "custom", xAxisIndex: xi, yAxisIndex: yl, data: [[0, 0]], renderItem: bandRender(up, lo, BLUE_FILL), z: 4, silent: true },
      { type: "custom", xAxisIndex: xi, yAxisIndex: yr, data: [[0, 0.5]], renderItem: epiRender(epi), z: 5, silent: true },
    ];

    const txt = (text: string, x: number, y: number, size: number, opts: any = {}) => ({
      type: "text", x, y, rotation: opts.rotation || 0, z: 100,
      style: { text, fill: "#000", fontSize: size, fontFamily: FONT, fontWeight: opts.bold ? "bold" : "normal", align: opts.align || "center", verticalAlign: "middle" },
    });

    const option: any = {
      animation: false,
      grid: [
        { left: 44, top: 8, width: 368, height: 275, show: true, borderColor: "#000", borderWidth: 0.8, backgroundColor: "transparent" },
        { left: 504, top: 8, width: 368, height: 274, show: true, borderColor: "#000", borderWidth: 0.8, backgroundColor: "transparent" },
      ],
      xAxis: [xAxis(0), xAxis(1)],
      yAxis: [yAxisLeft(0, -19.2, 13.6, yTicksA), yAxisRight(0), yAxisLeft(1, -19.75, 9.4, yTicksB), yAxisRight(1)],
      series: [
        ...panelSeries(0, 0, 1, trainA, predA, aleaUpperA, aleaLowerA, epiA),
        ...panelSeries(1, 2, 3, trainB, predB, aleaUpperB, aleaLowerB, epiB),
      ],
      graphic: [
        txt("x", 228, 304, 12.3),
        txt("x", 688, 304, 12.3),
        txt("y", 12, 145, 12.3, { rotation: Math.PI / 2 }),
        txt("y", 472, 145, 12.3, { rotation: Math.PI / 2 }),
        txt("Epistemic Uncertainty", 439, 145, 12, { rotation: Math.PI / 2 }),
        txt("Epistemic Uncertainty", 899, 145, 12, { rotation: Math.PI / 2 }),
        txt("A", 23.5, 299, 17, { bold: true }),
        txt("B", 484, 300, 17, { bold: true }),
        { type: "circle", shape: { cx: 37.5, cy: 325.5, r: 1.6 }, style: { fill: "#000" }, z: 100 },
        txt("training samples", 59, 324.3, 12, { align: "left" }),
        { type: "rect", shape: { x: 188, y: 320.5, width: 24.5, height: 10 }, style: { fill: BLUE_FILL, stroke: BLUE_FILL, lineWidth: 1 }, z: 100 },
        txt("3*aleatoric uncertainty prediction", 222.5, 324.3, 12, { align: "left" }),
        { type: "circle", shape: { cx: 501.7, cy: 325.5, r: 1.6 }, style: { fill: PINK }, z: 100 },
        txt("predictions", 523.5, 324.3, 12, { align: "left" }),
        { type: "rect", shape: { x: 625.5, y: 320.5, width: 24.5, height: 10 }, style: { fill: GREEN_FILL, stroke: GREEN_FILL, lineWidth: 1 }, z: 100 },
        txt("epistemic uncertainty prediction", 660, 324.3, 12, { align: "left" }),
      ],
    };

    chart.setOption(option);
    return () => chart.dispose();
  }, []);

  return <div ref={ref} style={{ position: "fixed", left: 0, top: 0, width: 906, height: 331 }} />;
}
